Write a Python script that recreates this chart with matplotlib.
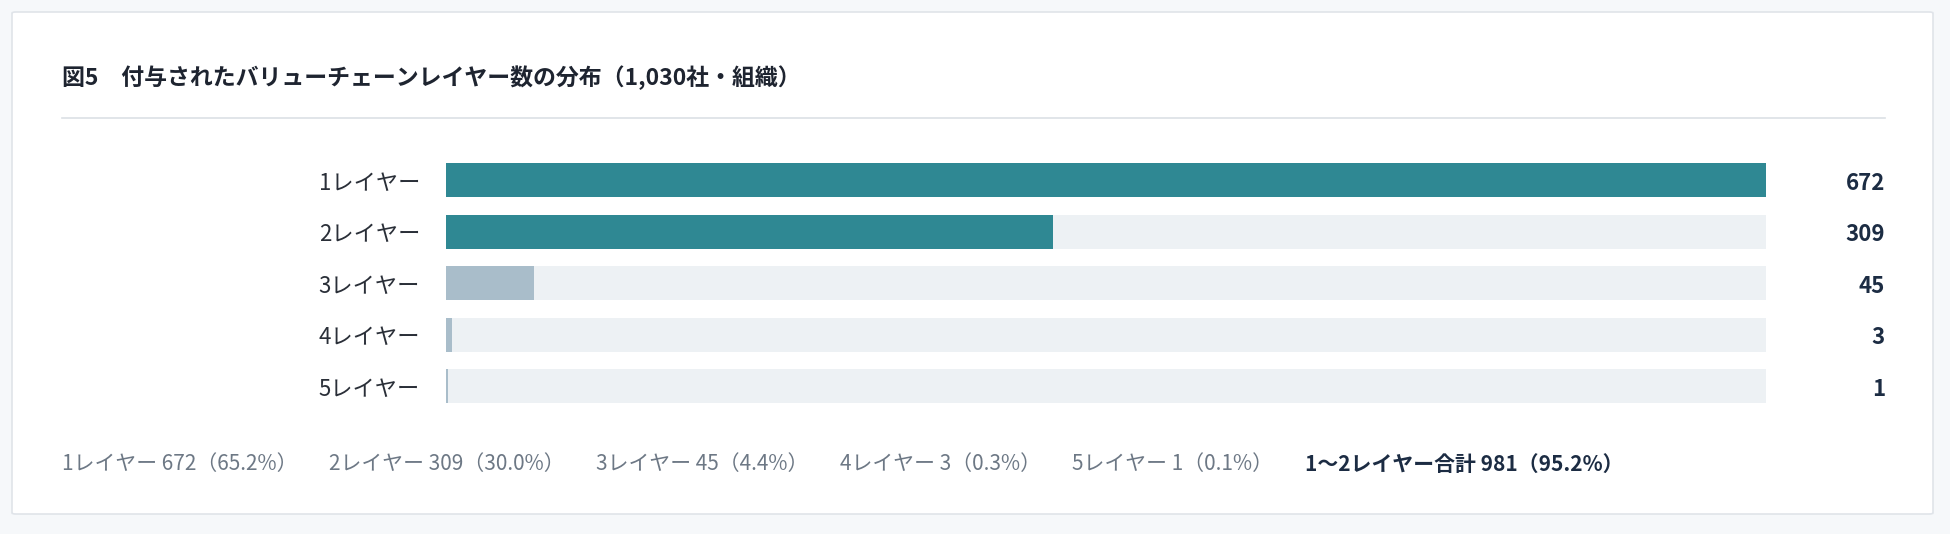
import matplotlib.pyplot as plt
from matplotlib.patches import FancyBboxPatch
from matplotlib.lines import Line2D

plt.rcParams['font.family'] = ['Noto Sans CJK JP', 'DejaVu Sans']

W, H = 1950, 534

title = "図5　付与されたバリューチェーンレイヤー数の分布（1,030社・組織）"
categories = ["1レイヤー", "2レイヤー", "3レイヤー", "4レイヤー", "5レイヤー"]
counts = [672, 309, 45, 3, 1]
shares = [65.2, 30.0, 4.4, 0.3, 0.1]
total_label = "1〜2レイヤー合計 981（95.2%）"

teal = "#2F8893"
grey_bar = "#A9BDCA"
track = "#EDF1F4"
navy = "#1C2C43"
bar_colors = [teal, teal, grey_bar, grey_bar, grey_bar]


def fx(x):
    return x / W


def fy(y):
    return 1 - y / H


fig = plt.figure(figsize=(W / 100, H / 100), dpi=100)
fig.patch.set_facecolor("#F6F8FA")

# card
card = FancyBboxPatch((fx(12), fy(514)), fx(1933) - fx(12), fy(12) - fy(514),
                      boxstyle="round,pad=0,rounding_size=0.002",
                      transform=fig.transFigure, facecolor="white",
                      edgecolor="#E0E4E9", linewidth=1.2, zorder=-5)
fig.patches.append(card)

fig.text(fx(62), fy(78), title, fontsize=16.5, fontweight="bold",
         color="#1E2430", va="center", ha="left")
fig.lines.append(Line2D([fx(62), fx(1885)], [fy(118), fy(118)],
                        transform=fig.transFigure, color="#DCE0E5", lw=1.2))

# bars
top, bottom = 154.25, 412.25
ax = fig.add_axes([fx(446), fy(bottom), fx(1766) - fx(446), fy(top) - fy(bottom)])
ax.set_zorder(2)
ypos = list(range(len(categories)))
ax.barh(ypos, [max(counts)] * len(counts), height=0.66, color=track, zorder=1)
ax.barh(ypos, counts, height=0.66, color=bar_colors, zorder=2)
ax.set_xlim(0, max(counts))
ax.set_ylim(len(categories) - 0.5, -0.5)
ax.axis("off")

for i, (cat, n) in enumerate(zip(categories, counts)):
    ax.annotate(cat, xy=(0, i), xycoords="data", xytext=(-26, -3),
                textcoords="offset pixels", ha="right", va="center",
                fontsize=16, color="#2A2F38", annotation_clip=False)
    ax.annotate(str(n), xy=(max(counts), i), xycoords="data", xytext=(119, -3),
                textcoords="offset pixels", ha="right", va="center",
                fontsize=16, fontweight="bold", color=navy,
                annotation_clip=False)

# footer summary
items = [f"{c} {n}（{s:.1f}%）" for c, n, s in zip(categories, counts, shares)]
fig.canvas.draw()
renderer = fig.canvas.get_renderer()
x = 62
for k, txt in enumerate(items + [total_label]):
    last = k == len(items)
    t = fig.text(fx(x), fy(464), txt, fontsize=15,
                 fontweight="bold" if last else "normal",
                 color=navy if last else "#6D7885", va="center", ha="left")
    bb = t.get_window_extent(renderer)
    x += bb.width + 31.5

fig.savefig("out.png", dpi=100, facecolor=fig.get_facecolor())
